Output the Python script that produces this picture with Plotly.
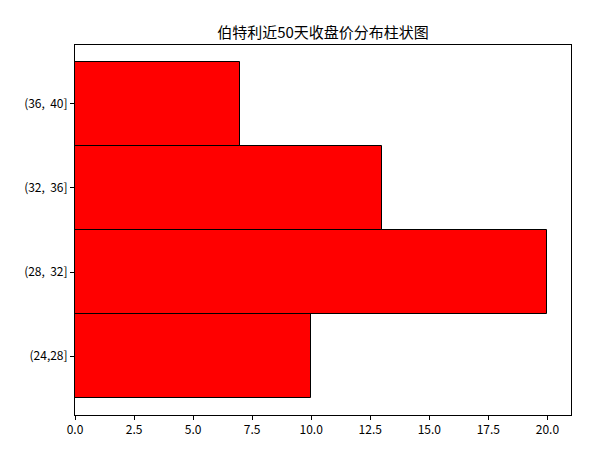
import plotly.graph_objects as go

categories = ["(24,28]", "(28,  32]", "(32,  36]", "(36,  40]"]
counts = [10, 20, 13, 7]
title = "伯特利近50天收盘价分布柱状图"

fig = go.Figure(go.Bar(
    y=list(range(len(categories))), x=counts, orientation="h", width=1,
    marker=dict(color="#ff0000", line=dict(color="black", width=1)),
))
font = "Noto Sans CJK SC, sans-serif"
fig.update_layout(
    width=614, height=451, plot_bgcolor="white", paper_bgcolor="white",
    margin=dict(l=67, r=51, t=37, b=44),
    title=dict(text=title, x=(67 + 496/2)/614, xanchor="center", y=1 - 25/451, yanchor="middle",
               font=dict(family=font, size=15, color="black")),
    font=dict(family=font, size=12, color="black"),
    showlegend=False, bargap=0,
)
fig.update_xaxes(range=[0, 21], dtick=2.5, tick0=0, tickformat=".1f", showgrid=False, zeroline=False,
                 showline=True, linecolor="black", linewidth=1, mirror=True,
                 ticks="outside", ticklen=4, tickcolor="black")
fig.update_yaxes(range=[-0.7, 3.7], tickvals=list(range(len(categories))), ticktext=categories,
                 showgrid=False, zeroline=False, showline=True, linecolor="black", linewidth=1, mirror=True,
                 ticks="outside", ticklen=4, tickcolor="black")
fig.write_html("out.html")
